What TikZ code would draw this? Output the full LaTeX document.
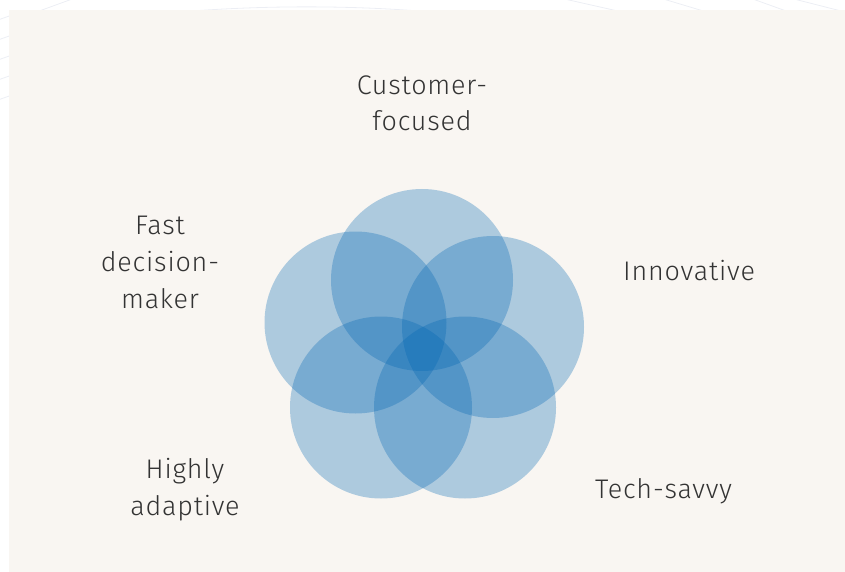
\documentclass[tikz,border=0pt]{standalone}
\usepackage{fontspec}
\setmainfont{Fira Sans}[UprightFont=* Light, LetterSpace=3]
\definecolor{petalblue}{RGB}{0,101,179}
\definecolor{panelbeige}{RGB}{249,246,242}
\definecolor{labelgray}{RGB}{51,51,51}
\definecolor{faintline}{RGB}{236,238,244}
\begin{document}
\begin{tikzpicture}[x=1bp,y=-1bp,
  petal/.style={fill=petalblue, fill opacity=0.3},
  trait/.style={text=labelgray, font=\fontsize{27}{37}\selectfont, align=center, inner sep=0pt},
  faint/.style={draw=faintline, line width=0.8bp}]
  \useasboundingbox (0,0) rectangle (845,572);
  % faint guide lines in the white margin
  \begin{scope}
    \clip (0,0) rectangle (845,10) (0,0) rectangle (9,572);
    \draw[faint] (120,18) .. controls (250,2) and (380,5) .. (470,16);
    \draw[faint] (20,18) -- (75,-2);
    \draw[faint] (560,-2) -- (640,16);
    \draw[faint] (660,-2) -- (720,16);
    \draw[faint] (750,-2) -- (800,16);
    \draw[faint] (790,-2) -- (845,12);
    \draw[faint] (-2,20) -- (12,15);
    \draw[faint] (-2,40) -- (12,35);
    \draw[faint] (-2,60) -- (12,55);
    \draw[faint] (-2,80) -- (12,75);
    \draw[faint] (-2,100) -- (12,95);
  \end{scope}
  % panel
  \fill[panelbeige] (9,10) rectangle (845,572);
  % five overlapping circles
  \path[petal] (422,280) circle (91);
  \path[petal] (355.5,322.5) circle (91);
  \path[petal] (493,327) circle (91);
  \path[petal] (381,407.5) circle (91);
  \path[petal] (465,407.5) circle (91);
  % trait labels (base anchor sits on the last line)
  \node[trait, anchor=base] (cust) at (422,131) {Customer-\\focused};
  \node[trait, anchor=base] (fast) at (160,308) {Fast\\decision-\\maker};
  \node[trait, anchor=base west] (innov) at (623,280) {Innovative};
  \node[trait, anchor=base] (adapt) at (185,515) {Highly\\adaptive};
  \node[trait, anchor=base west] (tech) at (595,498) {Tech-savvy};
\end{tikzpicture}
\end{document}
